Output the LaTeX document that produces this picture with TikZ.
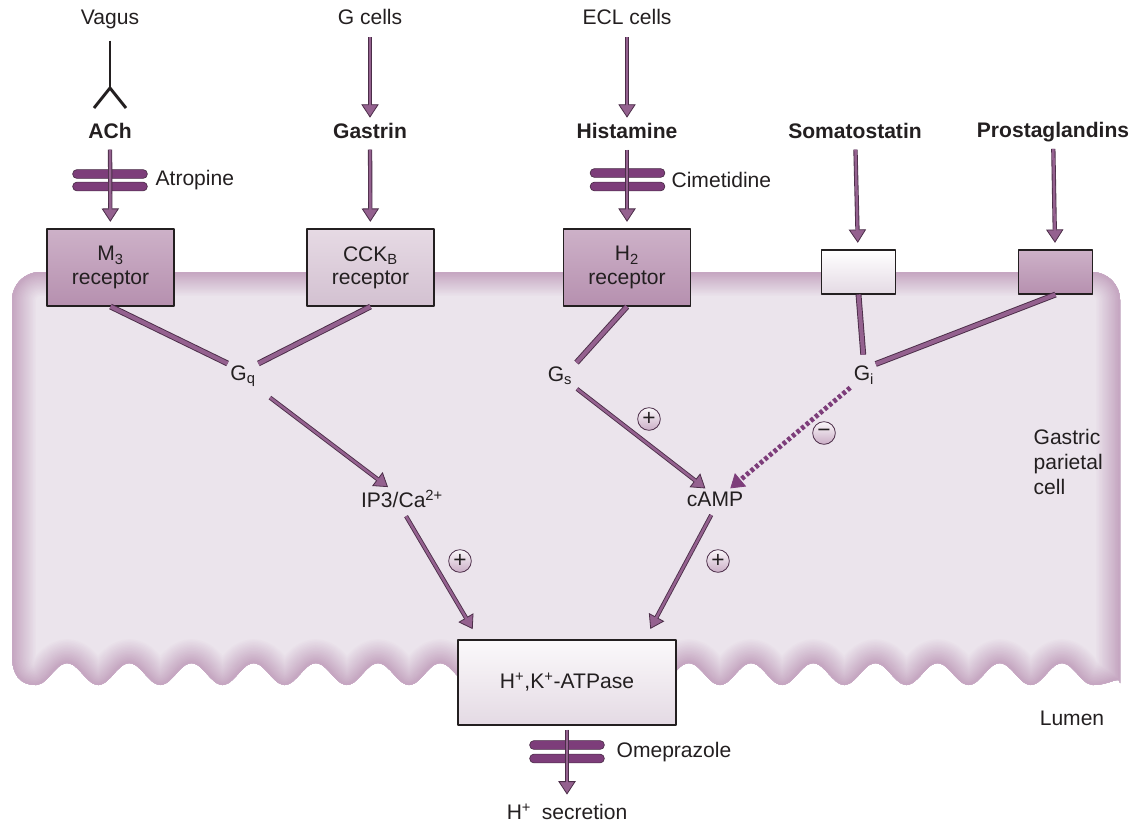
\documentclass[tikz,border=0pt]{standalone}
\usepackage{fontspec}
\setmainfont{Liberation Sans}
\usepackage{tikz}
\usetikzlibrary{arrows.meta,calc}

\definecolor{ink}{HTML}{231F20}
\definecolor{edgedk}{HTML}{4B2D48}
\definecolor{sigfill}{HTML}{94618F}
\definecolor{blockfill}{HTML}{7D3D7A}
\definecolor{cellin}{HTML}{EBE4EC}
\definecolor{memb}{HTML}{C19FBC}
\definecolor{recdark}{HTML}{B690AF}
\definecolor{reclight}{HTML}{CDB1C8}
\definecolor{ccktop}{HTML}{E6DAE4}
\definecolor{cckbot}{HTML}{D3C1D1}
\definecolor{pumpbot}{HTML}{E4DAE4}

\newcommand\figfont{\fontsize{15.8}{17.5}\selectfont}
\newcommand\cellpath{(12,655) [rounded corners=21pt] -- (12,272) -- (1120,272) -- (1120,655) [sharp corners]
  .. controls (1120,675) and (1110,685) .. (1093,685)
  -- plot[smooth,domain=1093:36,samples=171] (\x,{674+11*cos(((\x-36)/62.176)*360)})
  .. controls (20,685) and (12,675) .. (12,655) -- cycle}

\tikzset{
  lbl/.style={inner sep=1pt,text=ink},
  agent/.style={lbl,font=\figfont\bfseries},
  receptor/.style={draw=ink,line width=0.8pt,inner sep=0pt,minimum width=95.25pt,minimum height=57.75pt,align=center,text=ink},
  smallrec/.style={draw=ink,line width=0.8pt,inner sep=0pt,minimum width=55.5pt,minimum height=33pt},
  blocker/.style={draw=edgedk,line width=0.5pt,fill=blockfill,rounded corners=3.2pt,inner sep=0pt,minimum width=56pt,minimum height=6.6pt},
  sign/.style={circle,draw=edgedk,line width=0.6pt,inner sep=0pt,minimum size=17pt,top color=white!92!memb,bottom color=memb!85!white,text=ink,font=\fontsize{17}{17}\selectfont},
  sig/.style={draw=edgedk,line width=3.2pt,shorten >=#1,
    -{Triangle[length=10pt,width=13pt,line width=0.6pt,fill=sigfill]},
    postaction={draw=sigfill,line width=1.9pt,-,shorten >=#1+9pt}},
  sig/.default=1pt,
  bar/.style={draw=edgedk,line width=4.4pt,postaction={draw=sigfill,line width=3pt}},
  inhib/.style={draw=blockfill,line width=3.6pt,dash pattern=on 2.7pt off 1.8pt,shorten >=2pt,
    -{Triangle[length=10pt,width=13pt,line width=0.6pt,fill=blockfill]}},
  nerve/.style={draw=ink,line width=2.2pt},
}

\begin{document}
\begin{tikzpicture}[x=0.75pt,y=-0.75pt,font=\figfont,line join=round]
  \useasboundingbox (0,0) rectangle (1144,825);

  % parietal cell with shaded membrane
  \fill[cellin] \cellpath;
  \begin{scope}
    \clip \cellpath;
    \foreach \i [evaluate=\i as \w using 38-2.2*\i, evaluate=\i as \m using 5.5*\i] in {1,...,16}
      \draw[line width=\w pt,memb!\m!cellin] \cellpath;
  \end{scope}

  % agents
  \node[lbl] (vagus) at (110,19) {Vagus};
  \node[lbl] (gcells) at (370,17) {G cells};
  \node[lbl] (ecl) at (627,17) {ECL cells};
  \node[agent] (ach) at (110,131) {ACh};
  \node[agent] (gastrin) at (370,131) {Gastrin};
  \node[agent] (hist) at (627,131) {Histamine};
  \node[agent] (somat) at (855,131) {Somatostatin};
  \node[agent] (prost) at (1053,132) {Prostaglandins};

  % receptors and pump
  \node[receptor,top color=reclight,bottom color=recdark] (m3) at (110.5,267.5) {M\textsubscript{3}\\receptor};
  \node[receptor,top color=ccktop,bottom color=cckbot] (cckb) at (370.5,267.5) {CCK\textsubscript{B}\\receptor};
  \node[receptor,top color=reclight,bottom color=recdark] (h2) at (627,267.5) {H\textsubscript{2}\\receptor};
  \node[smallrec,top color=white,bottom color=pumpbot] (sstr) at (858.5,272) {};
  \node[smallrec,top color=reclight,bottom color=recdark] (pgr) at (1055.5,272) {};
  \node[receptor,minimum width=163.5pt,minimum height=63.75pt,top color=white!93!memb,middle color=white,bottom color=pumpbot] (atp) at (567,682.5) {H\textsuperscript{+},K\textsuperscript{+}-ATPase};

  % second messengers
  \node[lbl] (gq) at (243,376) {G\textsubscript{q}};
  \node[lbl] (gs) at (560,376) {G\textsubscript{s}};
  \node[lbl] (gi) at (864,375) {G\textsubscript{i}};
  \node[lbl] (ip3) at (402,499) {IP3/Ca\textsuperscript{2+}};
  \node[lbl] (camp) at (715,499) {cAMP};

  % blockers
  \node[blocker] (atrA) at (110,174) {};
  \node[blocker] (atrB) at (110,186.5) {};
  \node[lbl,anchor=west] (atropine) at (154,180) {Atropine};
  \node[blocker] (cimA) at (627.5,173) {};
  \node[blocker] (cimB) at (627.5,186.5) {};
  \node[lbl,anchor=west] (cimet) at (670,180) {Cimetidine};
  \node[blocker] (omeA) at (567,745) {};
  \node[blocker] (omeB) at (567,758.5) {};
  \node[lbl,anchor=west] (omepr) at (615,752) {Omeprazole};
  \node[lbl] (hsec) at (567,812) {H\textsuperscript{+}\enspace secretion};

  % vagal ending
  \coordinate (fork) at (110,88);
  \coordinate (forkL) at (94,108);
  \coordinate (forkR) at (126,108);
  \draw[nerve,shorten <=8pt] (vagus) -- (fork);
  \draw[nerve] (forkL) -- (fork) -- (forkR);

  % stimuli
  \draw[sig=3pt,shorten <=8pt] (gcells) -- (gastrin);
  \draw[sig=3pt,shorten <=8pt] (ecl) -- (hist);
  \draw[sig=5pt,shorten <=7pt] (ach) -- (m3);
  \draw[sig=5pt,shorten <=7pt] (gastrin) -- (cckb);
  \draw[sig=5pt,shorten <=7pt] (hist) -- (h2);
  \draw[sig=5pt,shorten <=7pt] (somat) -- (sstr);
  \draw[sig=5pt,shorten <=4pt] (prost) -- (pgr);

  % coupling
  \draw[bar,shorten >=1pt] (m3.south) -- (gq.north west);
  \draw[bar,shorten >=1pt] (cckb.south) -- (gq.north east);
  \draw[bar,shorten >=3pt] (h2.south) -- (gs.north east);
  \draw[bar,shorten >=7pt] (sstr.south) -- (gi.north);
  \draw[bar] (pgr.south) -- (gi.north east);

  % messengers
  \draw[sig=2pt,shorten <=12pt] (gq.south east) -- (ip3.139);
  \draw[sig=2pt,shorten <=3pt] (gs.south east) -- (camp.130);
  \draw[inhib,shorten <=2pt] (gi.south west) -- (camp.34);
  \draw[sig=9pt,shorten <=6pt] (ip3.south) -- (atp.154);
  \draw[sig=9pt,shorten <=6pt] (camp.south) -- (atp.29);
  \draw[sig=6pt,shorten <=3pt] (atp) -- (hsec);

  \node[sign] (plusgs) at (649,419) {+};
  \node[sign] (minusgi) at (824,433) {−};
  \node[sign] (plusip) at (460,561) {+};
  \node[sign] (pluscamp) at (718,561) {+};

  \node[lbl,anchor=west,align=left,font=\fontsize{15.8}{18.75}\selectfont] (celllbl) at (1032,462) {Gastric\\parietal\\cell};
  \node[lbl] (lumen) at (1072,718) {Lumen};
\end{tikzpicture}
\end{document}
